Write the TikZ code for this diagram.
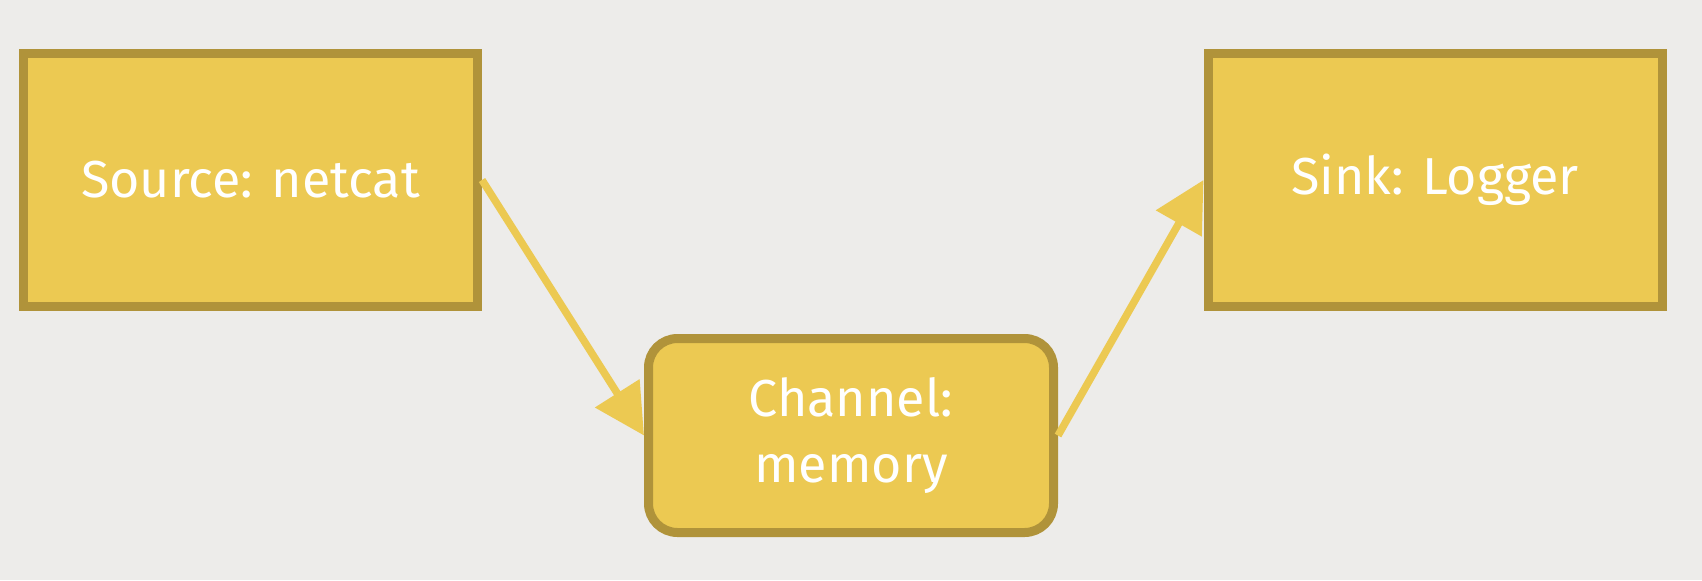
\documentclass[tikz,border=0pt]{standalone}
\usepackage{fontspec}
\setmainfont{Fira Sans}
\usepackage{tikz}
\usetikzlibrary{arrows.meta}

\definecolor{boxfill}{HTML}{ECC952}
\definecolor{boxline}{HTML}{B0933A}
\definecolor{paper}{HTML}{EDECEA}

\tikzset{
  stage/.style={draw=boxline, fill=boxfill, line width=4.5pt, text=white,
    font=\fontsize{26}{33}\selectfont, inner sep=0pt,
    minimum width=227pt, minimum height=126.5pt},
  chanbox/.style={stage, rounded corners=14.5pt, align=center,
    minimum width=202.5pt, minimum height=97pt},
  flow/.style={draw=boxfill, line width=3.75pt,
    -{Triangle[length=25pt,width=25.5pt]}}
}

\begin{document}
\begin{tikzpicture}[x=0.5pt, y=-0.5pt]
    \fill[paper] (0,0) rectangle (1702,580);
    \useasboundingbox (0,0) rectangle (1702,580);

                \node[stage] (src) at (250.5,180) {Source: netcat};
                \node[stage] (sink) at (1435,180) {Sink: Logger};
                \node[chanbox] (chan) at (851,435.5) {Channel:\\memory};

                \draw[flow] (src.east) -- (chan.west);
                \draw[flow] (chan.east) -- (sink.west);

\end{tikzpicture}
\end{document}
